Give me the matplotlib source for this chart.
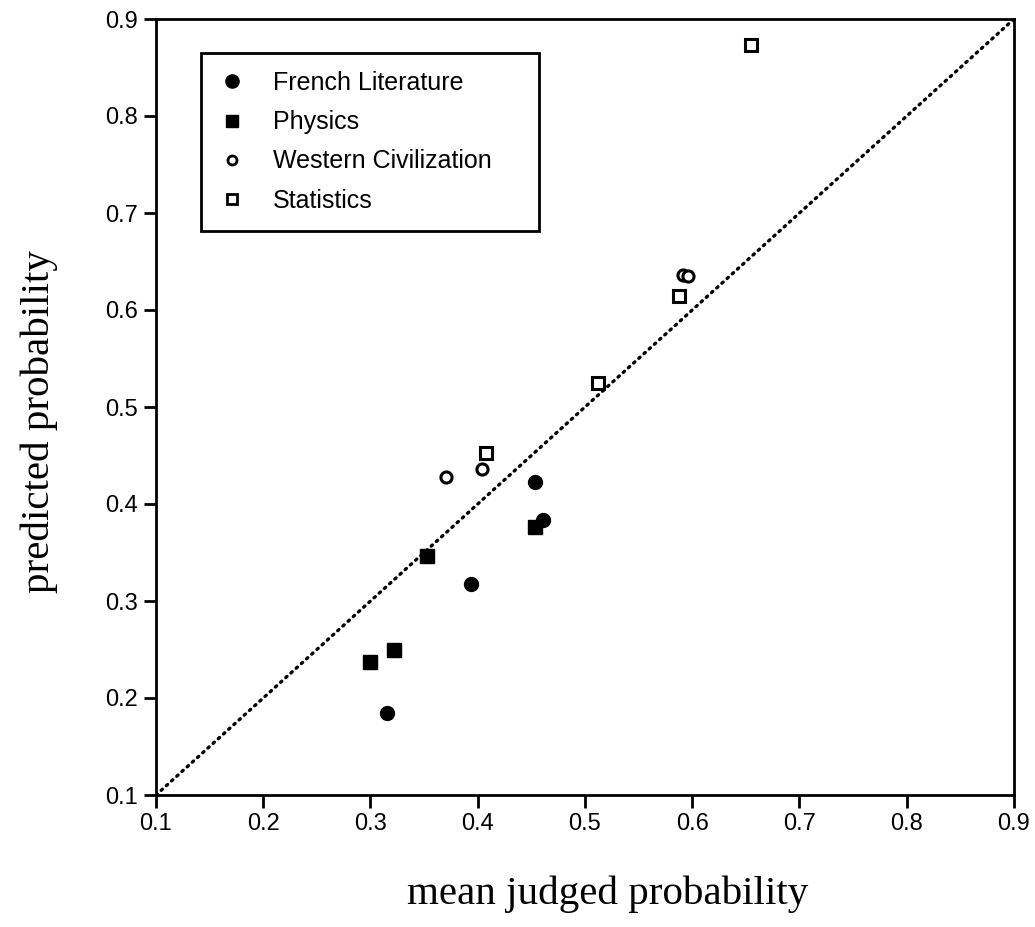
import matplotlib
matplotlib.use('Agg')
import matplotlib.pyplot as plt
from matplotlib.lines import Line2D

# values
french_x = [0.315, 0.394, 0.453, 0.461]
french_y = [0.185, 0.318, 0.423, 0.384]

physics_x = [0.300, 0.322, 0.353, 0.453]
physics_y = [0.237, 0.249, 0.346, 0.376]

western_x = [0.370, 0.404, 0.591, 0.596]
western_y = [0.428, 0.436, 0.636, 0.635]

stats_x = [0.408, 0.512, 0.588, 0.655]
stats_y = [0.453, 0.525, 0.614, 0.873]

ticks = [0.1, 0.2, 0.3, 0.4, 0.5, 0.6, 0.7, 0.8, 0.9]
labels = ['French Literature', 'Physics', 'Western Civilization', 'Statistics']

sans = ['Liberation Sans', 'DejaVu Sans']
serif = ['Liberation Serif', 'DejaVu Serif']

W, H = 1035, 927
fig = plt.figure(figsize=(W / 100, H / 100), dpi=100)
ax = fig.add_axes([156 / W, 1 - 795 / H, 858 / W, 776 / H])

ax.plot([0.1, 0.9], [0.1, 0.9], color='black', lw=2.4,
        ls=(0, (0.5, 1.6)), dash_capstyle='round', zorder=1)

ax.plot(french_x, french_y, 'o', ms=10, mfc='black', mec='black', ls='none', zorder=3)
ax.plot(physics_x, physics_y, 's', ms=10, mfc='black', mec='black', ls='none', zorder=3)
ax.plot(western_x, western_y, 'o', ms=8, mfc='white', mec='black', mew=2.2, ls='none', zorder=3)
ax.plot(stats_x, stats_y, 's', ms=8, mfc='white', mec='black', mew=2.2, ls='none', zorder=3)

ax.set_xlim(0.1, 0.9)
ax.set_ylim(0.1, 0.9)
ax.set_xticks(ticks)
ax.set_yticks(ticks)
ax.set_xticklabels([f'{t:.1f}' for t in ticks], family=sans, fontsize=17)
ax.set_yticklabels([f'{t:.1f}' for t in ticks], family=sans, fontsize=17)
ax.tick_params(direction='out', length=9, width=2, pad=4)
for s in ax.spines.values():
    s.set_linewidth(2)

ax.set_xlabel('mean judged probability', family=serif, fontsize=29.5, labelpad=29)
ax.set_ylabel('predicted probability', family=serif, fontsize=29.5, labelpad=34)
ax.xaxis.label.set_x((608 - 156) / 858)
ax.yaxis.label.set_y((795 - 422) / 776)

handles = [
    Line2D([], [], marker='o', ls='none', ms=9.5, mfc='black', mec='black'),
    Line2D([], [], marker='s', ls='none', ms=8.5, mfc='black', mec='black'),
    Line2D([], [], marker='o', ls='none', ms=6.5, mfc='white', mec='black', mew=2),
    Line2D([], [], marker='s', ls='none', ms=6.5, mfc='white', mec='black', mew=2),
]
leg = ax.legend(handles, labels, loc='upper left', mode='expand',
                bbox_to_anchor=((201 - 156) / 858, (795 - 230) / 776,
                                338 / 858, 177 / 776),
                borderaxespad=0, fancybox=False, framealpha=1,
                prop={'family': sans, 'size': 18}, labelspacing=0.61,
                handletextpad=1.12, borderpad=0.72, handlelength=1.05)
leg.get_frame().set_edgecolor('black')
leg.get_frame().set_linewidth(2)

fig.savefig('out.png', dpi=100)
